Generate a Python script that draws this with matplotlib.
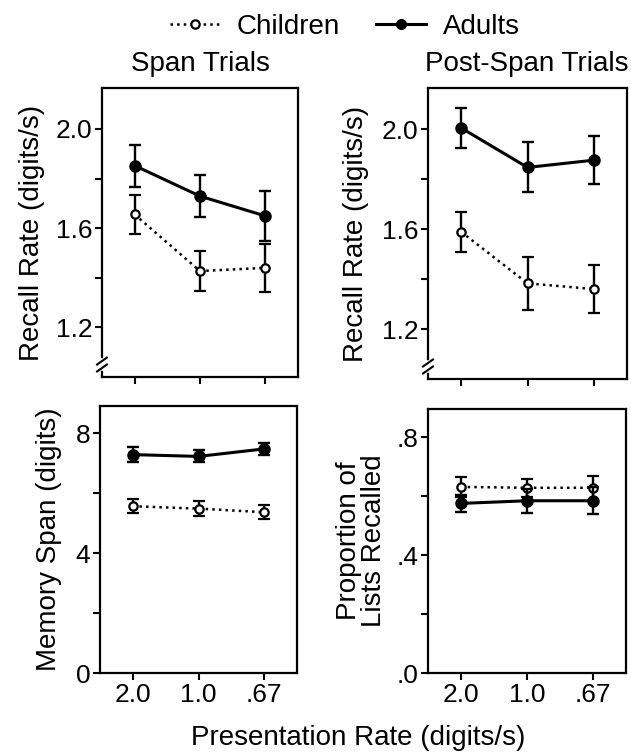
import matplotlib
matplotlib.use('Agg')
import matplotlib.pyplot as plt
from matplotlib.lines import Line2D

plt.rcParams['font.family'] = ['Liberation Sans', 'DejaVu Sans']
plt.rcParams['font.size'] = 20

# dados
taxas = ['2.0', '1.0', '.67']
posicoes = [0, 1, 2]

span_criancas = [1.655, 1.427, 1.44]
span_criancas_erro = [0.08, 0.08, 0.097]
span_adultos = [1.852, 1.729, 1.649]
span_adultos_erro = [0.085, 0.085, 0.10]

pos_criancas = [1.589, 1.383, 1.36]
pos_criancas_erro = [0.08, 0.105, 0.097]
pos_adultos = [2.005, 1.847, 1.876]
pos_adultos_erro = [0.08, 0.10, 0.095]

mem_criancas = [5.56, 5.48, 5.36]
mem_criancas_erro = [0.24, 0.26, 0.24]
mem_adultos = [7.28, 7.22, 7.47]
mem_adultos_erro = [0.25, 0.20, 0.21]

prop_criancas = [0.631, 0.628, 0.628]
prop_criancas_erro = [0.033, 0.03, 0.04]
prop_adultos = [0.575, 0.584, 0.584]
prop_adultos_erro = [0.03, 0.04, 0.045]


def desenhar_series(ax, criancas, criancas_erro, adultos, adultos_erro):
    """Desenha as duas series com barras de erro."""
    ax.errorbar(posicoes, criancas, yerr=criancas_erro, color='black',
                linestyle=':', linewidth=1.8, marker='o', markersize=6,
                markerfacecolor='white', markeredgewidth=1.6,
                elinewidth=1.7, capsize=4, capthick=1.7, zorder=3)
    ax.errorbar(posicoes, adultos, yerr=adultos_erro, color='black',
                linestyle='-', linewidth=2.2, marker='o', markersize=8,
                markerfacecolor='black', elinewidth=1.7, capsize=4,
                capthick=1.7, zorder=4)


def formatar_eixo(ax, ylim, yticks, ylabels, com_rotulos_x):
    """Formata limites, marcas e bordas do eixo."""
    ax.set_xlim(-0.5, 2.5)
    ax.set_ylim(*ylim)
    ax.set_yticks(yticks)
    ax.set_yticklabels(ylabels)
    ax.set_xticks(posicoes)
    ax.set_xticklabels(taxas if com_rotulos_x else [])
    ax.tick_params(direction='out', length=5, width=1.5, pad=2,
                   labelsize=19, top=False, right=False)
    for spine in ax.spines.values():
        spine.set_linewidth(1.6)


def desenhar_quebra(ax, ypos):
    """Desenha a quebra do eixo y perto da base."""
    t = ax.transAxes
    ax.plot([0, 0], [ypos - 0.012, ypos + 0.012], color='white', linewidth=4,
            transform=t, clip_on=False, zorder=5)
    for dy in (-0.012, 0.012):
        ax.plot([-0.025, 0.025], [ypos + dy - 0.012, ypos + dy + 0.012],
                color='black', linewidth=1.5, transform=t, clip_on=False, zorder=6)


fig = plt.figure(figsize=(6.31, 7.52), dpi=100)

ax1 = fig.add_axes([0.1616, 0.4987, 0.3107, 0.3843])
ax2 = fig.add_axes([0.6783, 0.4960, 0.3154, 0.3870])
ax3 = fig.add_axes([0.1585, 0.1050, 0.3122, 0.3551])
ax4 = fig.add_axes([0.6783, 0.1050, 0.3138, 0.3511])

desenhar_series(ax1, span_criancas, span_criancas_erro, span_adultos, span_adultos_erro)
desenhar_series(ax2, pos_criancas, pos_criancas_erro, pos_adultos, pos_adultos_erro)
desenhar_series(ax3, mem_criancas, mem_criancas_erro, mem_adultos, mem_adultos_erro)
desenhar_series(ax4, prop_criancas, prop_criancas_erro, prop_adultos, prop_adultos_erro)

rr_ticks = [1.2, 1.4, 1.6, 1.8, 2.0]
rr_labels = ['1.2', '', '1.6', '', '2.0']
formatar_eixo(ax1, (1.0, 2.165), rr_ticks, rr_labels, False)
formatar_eixo(ax2, (1.0, 2.165), rr_ticks, rr_labels, False)
formatar_eixo(ax3, (0, 8.9), [0, 2, 4, 6, 8], ['0', '', '4', '', '8'], True)
formatar_eixo(ax4, (0, 0.895), [0, 0.2, 0.4, 0.6, 0.8], ['.0', '', '.4', '', '.8'], True)

desenhar_quebra(ax1, 0.043)
desenhar_quebra(ax2, 0.043)

ax1.set_ylabel('Recall Rate (digits/s)', labelpad=8)
ax2.set_ylabel('Recall Rate (digits/s)', labelpad=9)
ax3.set_ylabel('Memory Span (digits)', labelpad=10)
ax4.set_ylabel('Proportion of\nLists Recalled', linespacing=0.95, labelpad=7)

fig.text(0.318, 0.915, 'Span Trials', ha='center', va='center')
fig.text(0.835, 0.915, 'Post-Span Trials', ha='center', va='center')
fig.text(0.567, 0.019, 'Presentation Rate (digits/s)', ha='center', va='center')

handles = [
    Line2D([], [], color='black', linestyle=':', linewidth=1.8, marker='o',
           markersize=6, markerfacecolor='white', markeredgewidth=1.6),
    Line2D([], [], color='black', linestyle='-', linewidth=2.2, marker='o',
           markersize=7, markerfacecolor='black'),
]
fig.legend(handles, ['Children', 'Adults'], loc='center', ncol=2,
           bbox_to_anchor=(0.547, 0.964), frameon=False, handlelength=1.8,
           columnspacing=1.3, handletextpad=0.6)

fig.savefig('out.png', dpi=100)
